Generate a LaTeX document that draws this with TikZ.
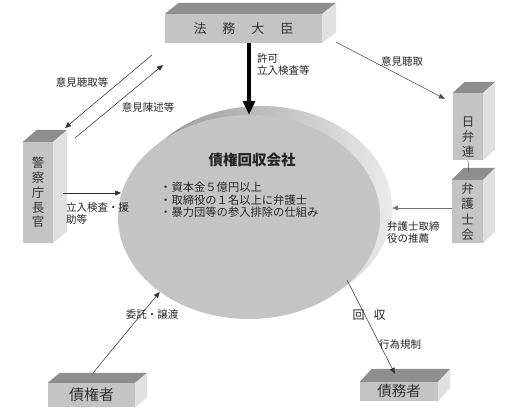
\documentclass[tikz,border=0pt]{standalone}
\usepackage{fontspec}
\setmainfont{Noto Sans CJK JP}
\usetikzlibrary{arrows.meta,positioning,calc,shapes.geometric}
\definecolor{facefront}{HTML}{C4C4C4}
\definecolor{facetop}{HTML}{8E8E8E}
\definecolor{faceside}{HTML}{E0E0E0}
\tikzset{
  block/.style={rectangle, fill=facefront, inner sep=0pt, align=center, text=black!80,
    font=\fontsize{13}{14.8}\selectfont},
  lbl/.style={font=\fontsize{10.5}{12.5}\selectfont, text=black!85, align=left, inner sep=0pt},
  link/.style={-{Triangle[length=6pt,width=5pt]}, line width=0.55pt, draw=black!80},
  push/.style={-{Triangle[length=14pt,width=12pt]}, line width=3.6pt},
}

\begin{document}
\begin{tikzpicture}[x=1pt, y=-1pt]
  \useasboundingbox (0,0) rectangle (517,420);
  % company (3d disc)
  \node[ellipse, inner sep=0pt, minimum width=262pt, minimum height=204pt,
    left color=black!45, right color=black!8] (rim) at (261,208) {};
  \node[ellipse, inner sep=0pt, fill=facefront, minimum width=262pt, minimum height=204pt] (company) at (249,217) {};
  \node[font=\fontsize{14.5}{16}\selectfont\bfseries, text=black!85] (title) at (252,160) {債権回収会社};
  \node[lbl, font=\fontsize{11.3}{12.4}\selectfont, anchor=north west] (rules) at (160,182)
    {・資本金５億円以上\\・取締役の１名以上に弁護士\\・暴力団等の参入排除の仕組み};
  % blocks
  \node[block, minimum width=157pt, minimum height=29pt] (minister) at (243.5,28.5)
    {法\hspace{16pt}務\hspace{16pt}大\hspace{16pt}臣};
  \node[block, minimum width=30pt, minimum height=101pt, font=\fontsize{12.5}{14.8}\selectfont] (police) at (38,192.5)
    {警\\察\\庁\\長\\官};
  \node[block, minimum width=30pt, minimum height=67pt, font=\fontsize{12.5}{15}\selectfont,
    label={[font=\fontsize{12.5}{15}\selectfont, align=center, text=black!80, yshift=-11pt]center:日\\弁\\連}] (jfba) at (468,126.5) {};
  \node[block, minimum width=31pt, minimum height=63pt, font=\fontsize{12.5}{15.5}\selectfont] (bar) at (467.5,211.5)
    {弁\\護\\士\\会};
  \node[block, minimum width=87pt, minimum height=24pt, font=\fontsize{15}{16}\selectfont] (creditor) at (91.5,395) {債権者};
  \node[block, minimum width=78pt, minimum height=19pt, font=\fontsize{14.5}{16}\selectfont] (debtor) at (399,391.5) {債務者};
  \foreach \n/\dx/\dy in {minister/14/11, police/14/12, jfba/12/11, bar/12/12, creditor/12/10, debtor/12/13} {
    \fill[facetop] (\n.north west) -- ++(\dx,-\dy) -- ($(\n.north east)+(\dx,-\dy)$) -- (\n.north east) -- cycle;
    \fill[faceside] (\n.north east) -- ++(\dx,-\dy) -- ($(\n.south east)+(\dx,-\dy)$) -- (\n.south east) -- cycle;
  }
  % connectors
  \draw[push] (minister.south -| company.north) -- (company.north);
  \node[lbl, anchor=north west] (permit) at (257,53) {許可\\立入検査等};

  \coordinate (hearA) at (152,55);
  \coordinate (hearB) at (65,128);
  \coordinate (stateA) at (75,138);
  \coordinate (stateB) at (163,65);
  \draw[link] (hearA) -- (hearB);
  \draw[link] (stateA) -- (stateB);
  \node[lbl] (hearlbl) at (82,82) {意見聴取等};
  \node[lbl] (statelbl) at (148,107) {意見陳述等};

  \coordinate (minout) at ($(minister.south east)+(14,-1)$);
  \draw[link, draw=black!70] (minout) -- ($(jfba.north west)+(-8,6)$);
  \node[lbl] (asklbl) at (402,62) {意見聴取};

  \coordinate (polout) at (63,193);
  \draw[link] (polout) -- (polout -| company.170);
  \node[lbl, anchor=north west] (inspect) at (66,202) {立入検査・援\\助等};

  \draw[draw=black!80] (jfba.south) -- ($(bar.north)+(1.5,-8)$);
  \draw[link, draw=black!55] (bar.west |- rim.east) -- (rim.east);
  \node[lbl, anchor=north west] (recommend) at (387,221) {弁護士取締\\役の推薦};

  \coordinate (credout) at (93,373);
  \draw[link] (credout) -- (company.220);
  \node[lbl] (entrust) at (152,315) {委託・譲渡};

  \coordinate (recv) at (347,280);
  \draw[link, shorten >=9pt] (recv) -- (debtor.north);
  \node[lbl, font=\fontsize{12}{13}\selectfont] (collect) at (369,315) {回\hspace{9pt}収};
  \node[lbl] (regulate) at (400,345) {行為規制};
\end{tikzpicture}
\end{document}
